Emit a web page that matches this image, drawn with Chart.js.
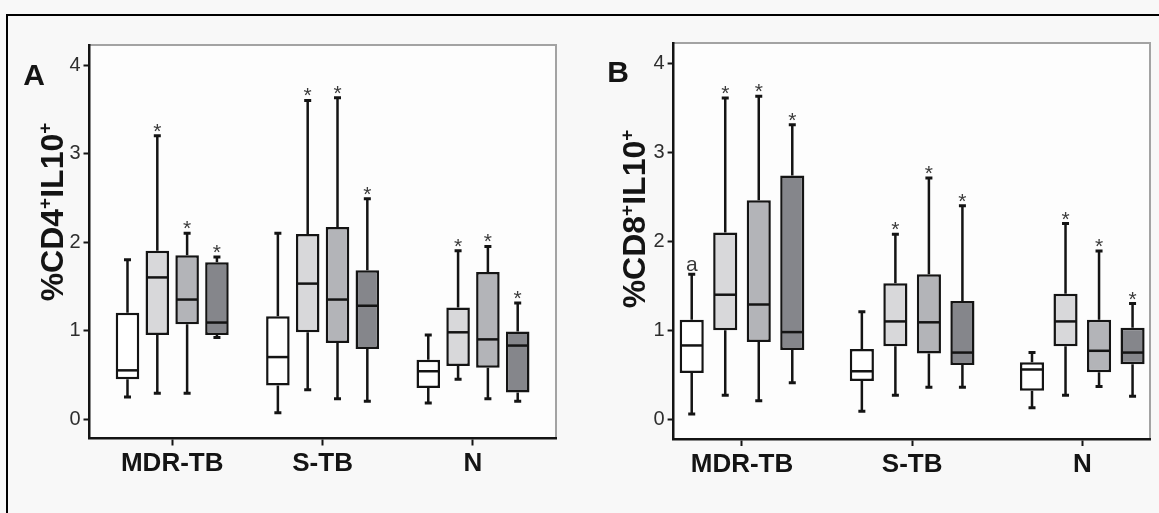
<!DOCTYPE html>
<html><head><meta charset="utf-8">
<script src="https://cdn.jsdelivr.net/npm/chart.js@4.4.1/dist/chart.umd.min.js"></script>
<style>
html,body{margin:0;padding:0;background:#f8f8f8;}
#wrap{position:relative;width:1159px;height:513px;overflow:hidden;background:#f8f8f8;}
#frame{position:absolute;left:6px;top:14px;width:1300px;height:700px;border-left:2px solid #000;border-top:2px solid #000;}
canvas{position:absolute;top:0;}
#cA{left:0}
#cB{left:580px}
</style></head><body>
<div id="wrap"><div id="frame"></div>
<canvas id="cA" width="580" height="513"></canvas>
<canvas id="cB" width="579" height="513"></canvas></div>
<script>
const categories = ['MDR-TB', 'S-TB', 'N'];
const seriesNames = ['Series 1', 'Series 2', 'Series 3', 'Series 4'];
const seriesColors = ['#ffffff', '#d8d8da', '#b3b4b8', '#85868b'];

// Panel A (%CD4+IL10+): [min, q1, median, q3, max] for MDR-TB, S-TB, N
const cd4Series1 = [[0.25,0.45,0.55,1.20,1.80],[0.07,0.38,0.70,1.16,2.10],[0.18,0.35,0.54,0.67,0.95]];
const cd4Series2 = [[0.29,0.95,1.60,1.90,3.20],[0.33,0.98,1.53,2.09,3.60],[0.45,0.60,0.98,1.26,1.90]];
const cd4Series3 = [[0.29,1.07,1.35,1.85,2.10],[0.23,0.86,1.35,2.17,3.63],[0.23,0.58,0.90,1.66,1.95]];
const cd4Series4 = [[0.92,0.95,1.09,1.77,1.83],[0.20,0.79,1.28,1.68,2.49],[0.20,0.30,0.83,0.99,1.31]];
const cd4Marks1 = ['', '', ''];
const cd4Marks2 = ['*', '*', '*'];
const cd4Marks3 = ['*', '*', '*'];
const cd4Marks4 = ['*', '*', '*'];

// Panel B (%CD8+IL10+)
const cd8Series1 = [[0.06,0.52,0.83,1.12,1.63],[0.09,0.43,0.54,0.79,1.21],[0.13,0.32,0.56,0.64,0.75]];
const cd8Series2 = [[0.27,1.00,1.40,2.10,3.61],[0.27,0.82,1.10,1.53,2.08],[0.27,0.82,1.10,1.41,2.20]];
const cd8Series3 = [[0.21,0.87,1.29,2.46,3.63],[0.36,0.74,1.09,1.63,2.71],[0.37,0.53,0.77,1.12,1.89]];
const cd8Series4 = [[0.41,0.78,0.98,2.74,3.31],[0.36,0.61,0.75,1.33,2.40],[0.26,0.62,0.75,1.03,1.30]];
const cd8Marks1 = ['a', '', ''];
const cd8Marks2 = ['*', '*', '*'];
const cd8Marks3 = ['*', '*', '*'];
const cd8Marks4 = ['*', '*', '*'];

const yTickValues = [0, 1, 2, 3, 4];
const titleA = '%CD4⁺IL10⁺';
const titleB = '%CD8⁺IL10⁺';

const FONT = '"Liberation Sans", Arial, sans-serif';
const INK = '#141414';

const boxPlugin = {
  id: 'boxparts',
  beforeDraw(chart) {
    const {ctx, chartArea: a} = chart;
    ctx.save();
    ctx.fillStyle = '#fdfdfd';
    ctx.fillRect(a.left, a.top, a.right - a.left, a.bottom - a.top);
    ctx.strokeStyle = '#a3a3a3';
    ctx.lineWidth = 2;
    ctx.beginPath();
    ctx.moveTo(a.left, a.top); ctx.lineTo(a.right, a.top); ctx.lineTo(a.right, a.bottom);
    ctx.stroke();
    ctx.restore();
  },
  afterDatasetsDraw(chart) {
    const ctx = chart.ctx, y = chart.scales.y;
    ctx.save();
    chart.data.datasets.forEach((ds, di) => {
      const meta = chart.getDatasetMeta(di);
      meta.data.forEach((el, i) => {
        const st = ds.stats[i];
        const x = el.x, w = el.width;
        const pMin = y.getPixelForValue(st[0]);
        const pQ1 = y.getPixelForValue(st[1]);
        const pMed = y.getPixelForValue(st[2]);
        const pQ3 = y.getPixelForValue(st[3]);
        const pMax = y.getPixelForValue(st[4]);
        ctx.strokeStyle = INK;
        ctx.lineWidth = 2.5;
        ctx.beginPath();
        ctx.moveTo(x, pQ3); ctx.lineTo(x, pMax);
        ctx.moveTo(x, pQ1); ctx.lineTo(x, pMin);
        ctx.stroke();
        ctx.lineWidth = 3;
        ctx.beginPath();
        ctx.moveTo(x - 3.5, pMax); ctx.lineTo(x + 3.5, pMax);
        ctx.moveTo(x - 3.5, pMin); ctx.lineTo(x + 3.5, pMin);
        ctx.stroke();
        ctx.lineWidth = 2.5;
        ctx.beginPath();
        ctx.moveTo(x - w / 2 + 1, pMed); ctx.lineTo(x + w / 2 - 1, pMed);
        ctx.stroke();
        const m = ds.marks[i];
        if (m) {
          ctx.fillStyle = '#3a3a3a';
          ctx.textAlign = 'center';
          ctx.textBaseline = 'alphabetic';
          if (m === '*') {
            ctx.font = '21px ' + FONT;
            ctx.fillText(m, x, pMax + 2);
          } else {
            ctx.font = '21px ' + FONT;
            ctx.fillText(m, x, pMax - 3);
          }
        }
      });
    });
    ctx.restore();
  },
  afterDraw(chart) {
    const o = chart.options.plugins.boxparts;
    const ctx = chart.ctx;
    ctx.save();
    ctx.fillStyle = INK;
    ctx.font = 'bold 30px ' + FONT;
    ctx.textAlign = 'center';
    ctx.textBaseline = 'middle';
    ctx.fillText(o.letter, o.letterX, o.letterY);
    // rotated y title with superscript plus signs
    ctx.translate(o.titleX, o.titleY);
    ctx.rotate(-Math.PI / 2);
    const parts = [];
    for (const ch of o.title) {
      if (ch === '⁺') parts.push({t: '+', sup: true});
      else if (parts.length && !parts[parts.length - 1].sup) parts[parts.length - 1].t += ch;
      else parts.push({t: ch, sup: false});
    }
    const big = 'bold 32px ' + FONT, small = 'bold 19px ' + FONT;
    let total = 0;
    parts.forEach(p => { ctx.font = p.sup ? small : big; p.w = ctx.measureText(p.t).width; total += p.w; });
    let cx = -total / 2;
    ctx.textAlign = 'left';
    ctx.textBaseline = 'alphabetic';
    parts.forEach(p => {
      ctx.font = p.sup ? small : big;
      ctx.fillText(p.t, cx, p.sup ? -1 : 11);
      cx += p.w;
    });
    ctx.restore();
  }
};

function makePanel(id, series, marks, cfg) {
  const datasets = series.map((s, k) => ({
    label: seriesNames[k],
    data: s.map((st, i) => ({x: i, y: [st[1], st[3]]})),
    stats: s,
    marks: marks[k],
    backgroundColor: seriesColors[k],
    borderColor: INK,
    borderWidth: 2.5,
    borderSkipped: false,
    categoryPercentage: cfg.catPct,
    barPercentage: cfg.barPct
  }));
  return new Chart(document.getElementById(id), {
    type: 'bar',
    data: {datasets},
    plugins: [boxPlugin],
    options: {
      responsive: false,
      animation: false,
      devicePixelRatio: 1,
      layout: {padding: {top: cfg.padTop, right: cfg.padRight, left: 0, bottom: 0}},
      plugins: {
        legend: {display: false},
        tooltip: {enabled: false},
        boxparts: {letter: cfg.letter, letterX: cfg.letterX, letterY: cfg.letterY, title: cfg.title, titleX: cfg.titleX, titleY: cfg.titleY}
      },
      scales: {
        x: {
          type: 'linear',
          offset: false,
          min: cfg.xMin, max: cfg.xMax,
          afterFit: s => { s.height = cfg.xHeight; },
          ticks: {
            stepSize: 1, includeBounds: false, autoSkip: false, maxRotation: 0,
            callback: v => categories[v] || '',
            font: {family: FONT, size: 26, weight: 'bold'}, color: INK, padding: 3
          },
          grid: {drawOnChartArea: false, drawTicks: true, tickLength: 7, tickColor: INK, tickWidth: 2, offset: false},
          border: {display: true, color: INK, width: 2.5}
        },
        y: {
          type: 'linear',
          min: cfg.yMin, max: cfg.yMax,
          afterFit: s => { s.width = cfg.yWidth; },
          afterBuildTicks: s => { s.ticks = yTickValues.map(v => ({value: v})); },
          ticks: {font: {family: FONT, size: 20}, color: '#2e2e2e', padding: 3},
          grid: {drawOnChartArea: false, drawTicks: true, tickLength: 6, tickColor: INK, tickWidth: 2},
          border: {display: true, color: INK, width: 2.5}
        }
      }
    }
  });
}

makePanel('cA', [cd4Series1, cd4Series2, cd4Series3, cd4Series4], [cd4Marks1, cd4Marks2, cd4Marks3, cd4Marks4], {
  catPct: 0.793, barPct: 0.79, padTop: 45, padRight: 24, xHeight: 74.5, yWidth: 89.5,
  xMin: -0.55, xMax: 2.552, yMin: -0.220, yMax: 4.226,
  letter: 'A', letterX: 34, letterY: 77, title: titleA, titleX: 52, titleY: 212
});
makePanel('cB', [cd8Series1, cd8Series2, cd8Series3, cd8Series4], [cd8Marks1, cd8Marks2, cd8Marks3, cd8Marks4], {
  catPct: 0.788, barPct: 0.72, padTop: 43, padRight: 9, xHeight: 74, yWidth: 93.6,
  xMin: -0.402, xMax: 2.398, yMin: -0.221, yMax: 4.228,
  letter: 'B', letterX: 38, letterY: 74, title: titleB, titleX: 54, titleY: 219
});
</script>
</body></html>
